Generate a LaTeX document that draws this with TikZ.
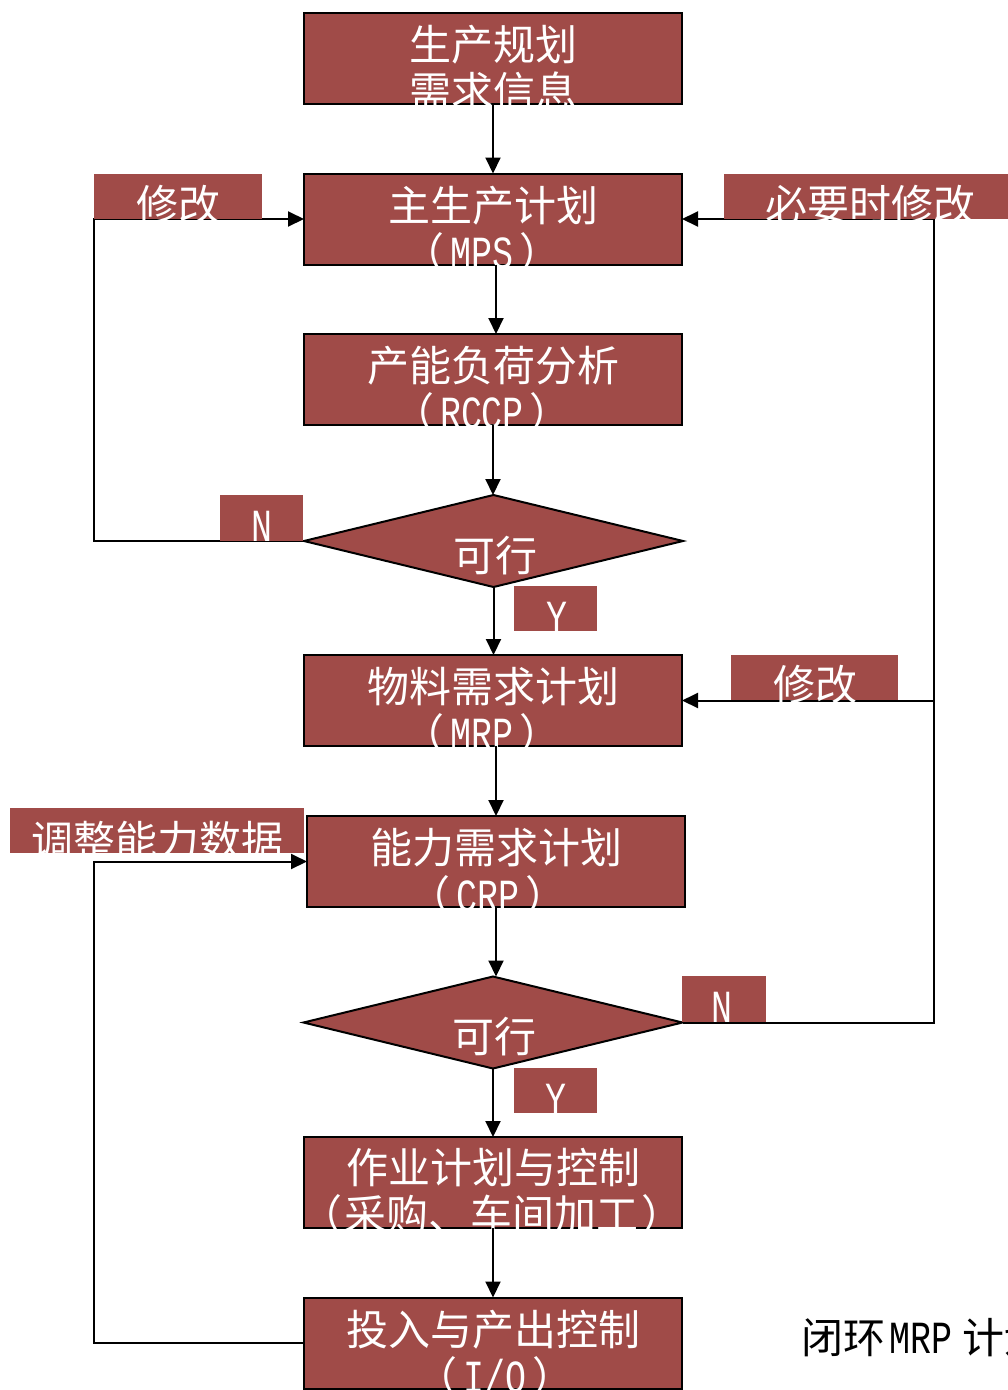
\documentclass[tikz,border=0pt]{standalone}
\usepackage{fontspec}
\newfontfamily\cjk{Noto Sans CJK SC}
\newfontfamily\latf[FakeStretch=0.76]{Liberation Mono}
\usetikzlibrary{shapes.geometric,arrows.meta}
\definecolor{boxred}{RGB}{160,75,72}
\newcommand\latn[1]{{\latf\fontsize{46}{46}\selectfont #1}}
\newcommand\plat[1]{（\kern6pt\latn{#1}\kern6pt）}
\tikzset{
  box/.style={draw=black, line width=2pt, fill=boxred, minimum width=378pt, minimum height=91pt, inner sep=0pt, outer sep=0pt},
  dia/.style={diamond, draw=black, line width=2pt, fill=boxred, minimum width=379pt, minimum height=92pt, inner sep=0pt, outer sep=0pt},
  tag/.style={fill=boxred, inner sep=0pt, outer sep=0pt},
  wt/.style={text=white, inner sep=0pt, anchor=base, font=\cjk\fontsize{42}{47}\selectfont},
  bt/.style={text=black, inner sep=0pt, anchor=base west, font=\cjk\fontsize{42}{47}\selectfont},
  link/.style={line width=2pt, -{Triangle[length=16pt,width=15pt]}},
}
\begin{document}
\begin{tikzpicture}[x=1pt,y=-1pt]
\useasboundingbox (0,0) rectangle (1008,1390);
% boxes
\node[box] (b1) at (493,58.5) {};
\node[box] (b2) at (493,219) {};
\node[box] (b3) at (493,379.5) {};
\node[dia] (d1) at (493.5,541) {};
\node[box] (b4) at (493,700.5) {};
\node[box] (b5) at (496,861.5) {};
\node[dia] (d2) at (493,1022.5) {};
\node[box] (b6) at (493,1182.5) {};
\node[box] (b7) at (493,1343) {};
% box texts
\node[wt] (b1a) at (493,60) {生产规划};
\node[wt] (b1b) at (493,107) {需求信息};
\node[wt] (b2a) at (493,221) {主生产计划};
\node[wt] (b2b) at (482,268) {\plat{MPS}};
\node[wt] (b3a) at (493,381) {产能负荷分析};
\node[wt] (b3b) at (482,428) {\plat{RCCP}};
\node[wt] (d1a) at (495,571) {可行};
\node[wt] (b4a) at (493,702) {物料需求计划};
\node[wt] (b4b) at (482,749) {\plat{MRP}};
\node[wt] (b5a) at (496,863) {能力需求计划};
\node[wt] (b5b) at (488,911) {\plat{CRP}};
\node[wt] (d2a) at (494,1052) {可行};
\node[wt] (b6a) at (493,1183) {作业计划与控制};
\node[wt] (b6b) at (492,1230) {（\kern3pt 采购、车间加工\kern3pt）};
\node[wt] (b7a) at (493,1345) {投入与产出控制};
\node[wt] (b7b) at (495,1392) {\plat{I/O}};
% connector coordinates
\coordinate (l1) at (94,541);
\coordinate (l2) at (94,219);
\coordinate (r1) at (934,1022.5);
\coordinate (r2) at (934,219);
\coordinate (r3) at (934,700.5);
\coordinate (q1) at (94,1343);
\coordinate (q2) at (94,861.5);
% connectors
\draw[link] (b1.south) -- (b2.north);
\draw[link] ([xshift=3pt]b2.south) -- ([xshift=3pt]b3.north);
\draw[link] (b3.south) -- (b3.south |- d1.north);
\draw[link] (d1.south) -- (d1.south |- b4.north);
\draw[link] ([xshift=3pt]b4.south) -- (b5.north);
\draw[link] (b5.south) -- (b5.south |- d2.north);
\draw[link] (d2.south) -- (b6.north);
\draw[link] (b6.south) -- (b7.north);
\draw[link] (d1.west) -- (l1) -- (l2) -- (b2.west);
\draw[link] (d2.east) -- (r1) -- (r2) -- (b2.east);
\draw[link] (r3) -- (b4.east);
\draw[link] (b7.west) -- (q1) -- (q2) -- (b5.west);
% tags
\node[tag, minimum width=168pt, minimum height=45pt] (g1) at (178,196.5) {};
\node[wt] (g1t) at (178,220) {修改};
\node[tag, minimum width=284pt, minimum height=45pt] (g2) at (866,196.5) {};
\node[wt] (g2t) at (870,220) {必要时修改};
\node[tag, minimum width=83pt, minimum height=46pt] (g3) at (261.5,518) {};
\node[wt] (g3t) at (262,541) {\latn{N}};
\node[tag, minimum width=83pt, minimum height=45pt] (g4) at (555.5,608.5) {};
\node[wt] (g4t) at (557,632) {\latn{Y}};
\node[tag, minimum width=167pt, minimum height=45pt] (g5) at (814.5,677.5) {};
\node[wt] (g5t) at (815,700) {修改};
\node[tag, minimum width=294pt, minimum height=45pt] (g6) at (157,830.5) {};
\node[wt] (g6t) at (157,856) {调整能力数据};
\node[tag, minimum width=84pt, minimum height=46pt] (g7) at (724,999) {};
\node[wt] (g7t) at (722,1022) {\latn{N}};
\node[tag, minimum width=83pt, minimum height=45pt] (g8) at (555.5,1090.5) {};
\node[wt] (g8t) at (556,1114) {\latn{Y}};
% caption
\node[bt] (cap) at (801,1353) {闭环\kern4pt\latn{MRP}\kern10pt 计划};
\end{tikzpicture}
\end{document}
